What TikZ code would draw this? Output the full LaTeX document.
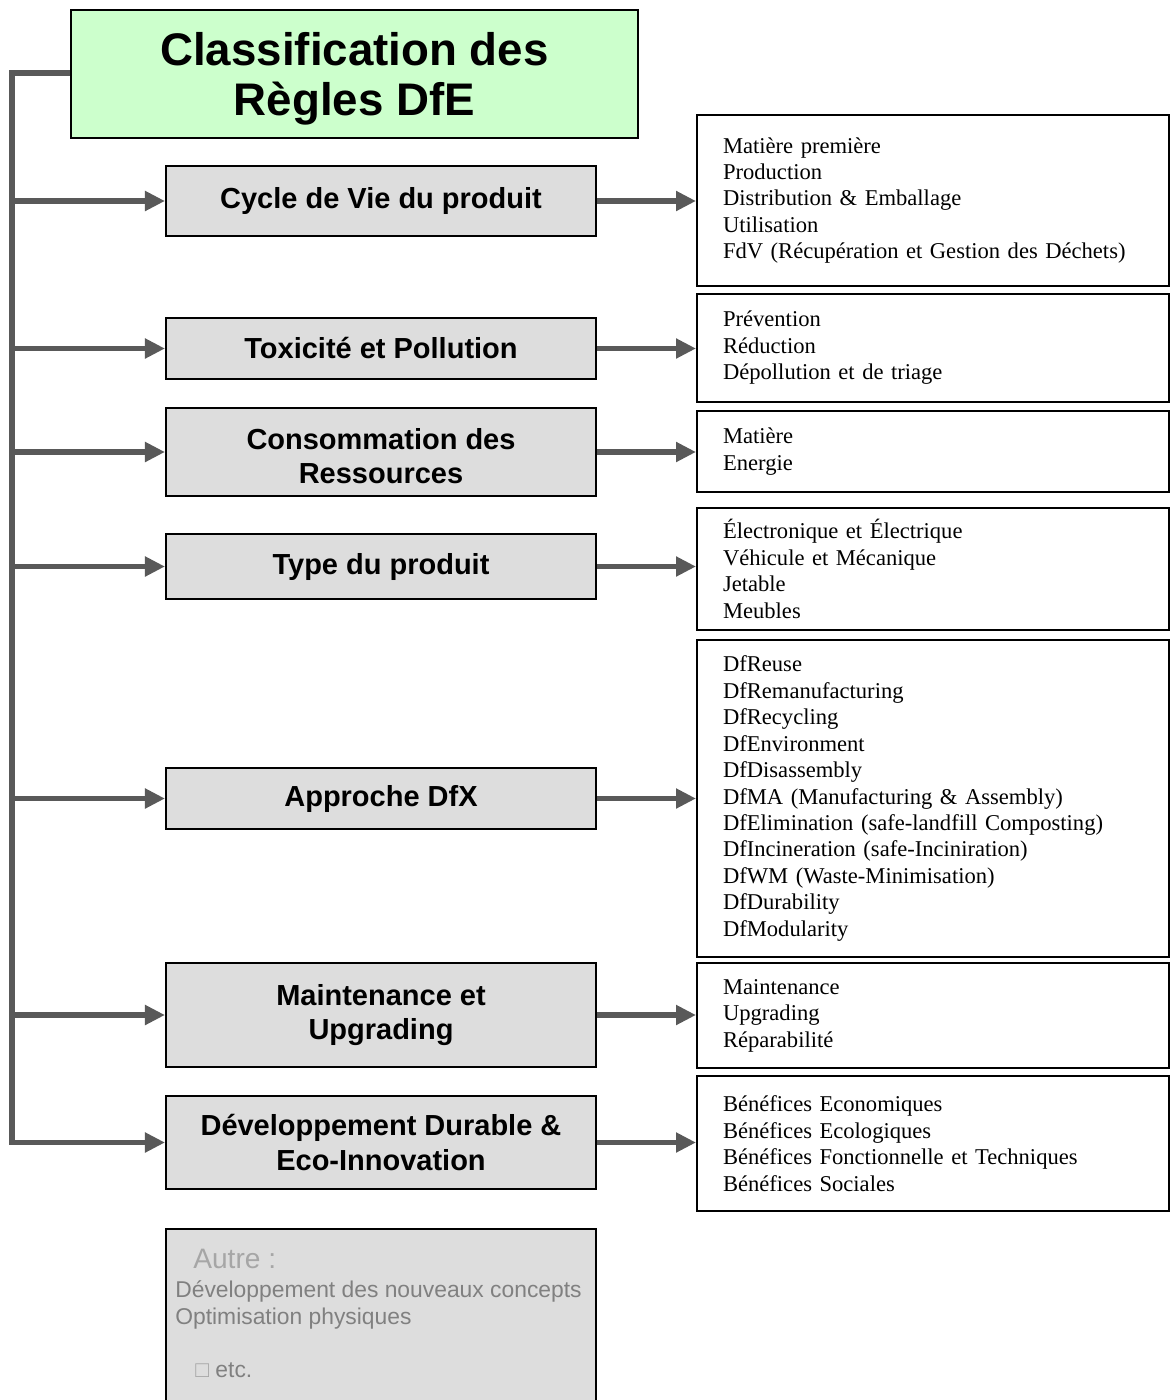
\documentclass[tikz,border=0pt]{standalone}
\usepackage{fontspec}
\usepackage{tikz}
\usetikzlibrary{arrows.meta}
\setmainfont{Liberation Serif}
\newfontfamily\arialFont{Liberation Sans}
\tikzstyle{chart} = [x = 0.02cm, y = -0.02cm]
\definecolor{lineColor}{RGB}{89,89,89}
\definecolor{titleColor}{RGB}{204,255,204}
\definecolor{categoryColor}{RGB}{221,221,221}
\definecolor{otherTitleColor}{RGB}{166,166,166}
\definecolor{otherTextColor}{RGB}{128,128,128}
\tikzstyle{titleStyle} = [draw=black, fill=titleColor, line width=1.2pt, minimum width=11.34cm, minimum height=2.56cm, align=center, font=\arialFont\bfseries\fontsize{26}{28.5}\selectfont]
\tikzstyle{categoryStyle} = [draw=black, fill=categoryColor, line width=1.2pt, minimum width=8.6cm, align=center, font=\arialFont\bfseries\fontsize{16.5}{19.5}\selectfont]
\tikzstyle{listStyle} = [draw=black, fill=white, line width=1.2pt, text width=8.4cm, inner xsep=0.52cm, align=left, font=\fontsize{12.85}{15.05}\selectfont]
\tikzstyle{otherStyle} = [draw=black, fill=categoryColor, line width=1.2pt, minimum width=8.6cm, minimum height=3.7cm]
\tikzstyle{otherText} = [anchor=west, inner sep=0pt, align=left, color=otherTextColor, font=\arialFont\fontsize{13}{15.3}\selectfont]
\tikzstyle{spineLine} = [color=lineColor, line width=3pt]
\tikzstyle{branchLine} = [spineLine, -{Triangle[length=0.4cm, width=0.38cm]}]
\newcommand{\category}[4]{
  \node [categoryStyle, minimum height=#3] (#1) at (381, #2) {#4};
  \draw [branchLine] (spineTop |- #1) -- (#1.west);
}
\newcommand{\categoryList}[4]{
  \node [listStyle, minimum height=#3] (#1List) at (933, #2) {#4};
  \draw [branchLine] (#1.east) -- (#1.east -| #1List.west);
}
\begin{document}
\begin{tikzpicture}[chart]
  \useasboundingbox (0,0) rectangle (1170,1400);
  \node [titleStyle] (titleBox) at (354.5,74) {\rule{0pt}{24.5pt}Classification des\\Règles DfE};
  \coordinate (spineTop) at (12,73);
  \coordinate (spineBottom) at (12,1145);
  \draw [spineLine] (titleBox.west |- spineTop) -- (spineTop) -- (spineBottom);

  \category{cycleBox}{201}{1.4cm}{Cycle de Vie du produit}
  \category{toxicityBox}{348.5}{1.22cm}{Toxicité et Pollution}
  \category{resourceBox}{452}{1.76cm}{\rule{0pt}{16.5pt}Consommation des\\Ressources}
  \category{productBox}{566.5}{1.3cm}{Type du produit}
  \category{dfxBox}{798.5}{1.22cm}{Approche DfX}
  \category{maintenanceBox}{1015}{2.08cm}{Maintenance et\\Upgrading}
  \category{developmentBox}{1142.5}{1.86cm}{Développement Durable \&\\Eco-Innovation}

  \categoryList{cycleBox}{200.5}{3.42cm}{Matière première\\Production\\Distribution \& Emballage\\Utilisation\\FdV (Récupération et Gestion des Déchets)}
  \categoryList{toxicityBox}{348}{2.16cm}{Prévention\\Réduction\\Dépollution et de triage}
  \categoryList{resourceBox}{451.5}{1.62cm}{Matière\\Energie}
  \categoryList{productBox}{569}{2.44cm}{Électronique et Électrique\\Véhicule et Mécanique\\Jetable\\Meubles}
  \categoryList{dfxBox}{798.5}{6.34cm}{DfReuse\\DfRemanufacturing\\DfRecycling\\DfEnvironment\\DfDisassembly\\DfMA (Manufacturing \& Assembly)\\DfElimination (safe-landfill Composting)\\DfIncineration (safe-Inciniration)\\DfWM (Waste-Minimisation)\\DfDurability\\DfModularity}
  \categoryList{maintenanceBox}{1015.5}{2.1cm}{Maintenance\\Upgrading\\Réparabilité}
  \categoryList{developmentBox}{1143.5}{2.7cm}{Bénéfices Economiques\\Bénéfices Ecologiques\\Bénéfices Fonctionnelle et Techniques\\Bénéfices Sociales}

  \node [otherStyle, anchor=north] (otherBox) at (381,1228) {};
  \node [otherText, color=otherTitleColor, font=\arialFont\fontsize{16}{19}\selectfont] (otherTitle) at (193,1259) {Autre :};
  \node [otherText] (otherList) at (175,1305) {Développement des nouveaux concepts\\Optimisation physiques};
  \node [otherText] (otherEtc) at (195,1370) {{\color{otherTitleColor}\fontsize{13}{15}\selectfont □}\ etc.};
\end{tikzpicture}
\end{document}
